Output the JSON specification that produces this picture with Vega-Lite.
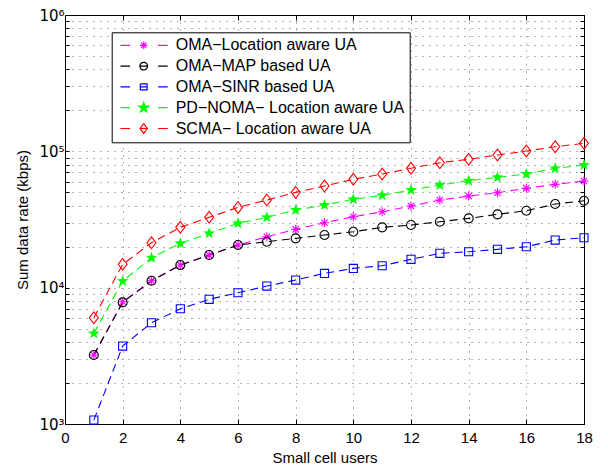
{
  "$schema": "https://vega.github.io/schema/vega-lite/v6.json",
  "width": 519,
  "height": 409,
  "autosize": "none",
  "padding": {"left": 65, "top": 15, "right": 24, "bottom": 44},
  "background": "white",
  "config": {
    "font": "Liberation Sans",
    "view": {"stroke": "#000", "strokeWidth": 1},
    "axis": {"labelColor": "#000", "titleColor": "#000", "titleFontWeight": "normal", "labelFontSize": 15, "titleFontSize": 15, "tickColor": "#000", "domainColor": "#000"},
    "legend": {
      "orient": "none", "legendX": 46.7, "legendY": 17.3,
      "padding": 5, "strokeColor": "#000", "fillColor": "#fff",
      "symbolSize": 64, "symbolStrokeWidth": 1.2, "symbolOffset": 19, "labelOffset": 24,
      "labelFont": "Liberation Sans", "labelFontSize": 16, "labelColor": "#000", "rowPadding": 4.8, "labelLimit": 400
    }
  },
  "data": {
    "values": [
      {"series": "OMA−Location aware UA", "x": 1, "y": 3205}, {"series": "OMA−Location aware UA", "x": 2, "y": 7880}, {"series": "OMA−Location aware UA", "x": 3, "y": 11230}, {"series": "OMA−Location aware UA", "x": 4, "y": 14650}, {"series": "OMA−Location aware UA", "x": 5, "y": 17350}, {"series": "OMA−Location aware UA", "x": 6, "y": 20540}, {"series": "OMA−Location aware UA", "x": 7, "y": 23640}, {"series": "OMA−Location aware UA", "x": 8, "y": 26780}, {"series": "OMA−Location aware UA", "x": 9, "y": 29940}, {"series": "OMA−Location aware UA", "x": 10, "y": 33130}, {"series": "OMA−Location aware UA", "x": 11, "y": 36060}, {"series": "OMA−Location aware UA", "x": 12, "y": 39690}, {"series": "OMA−Location aware UA", "x": 13, "y": 43920}, {"series": "OMA−Location aware UA", "x": 14, "y": 46990}, {"series": "OMA−Location aware UA", "x": 15, "y": 49700}, {"series": "OMA−Location aware UA", "x": 16, "y": 53520}, {"series": "OMA−Location aware UA", "x": 17, "y": 57270}, {"series": "OMA−Location aware UA", "x": 18, "y": 60560},
      {"series": "OMA−MAP based UA", "x": 1, "y": 3205}, {"series": "OMA−MAP based UA", "x": 2, "y": 7800}, {"series": "OMA−MAP based UA", "x": 3, "y": 11230}, {"series": "OMA−MAP based UA", "x": 4, "y": 14650}, {"series": "OMA−MAP based UA", "x": 5, "y": 17350}, {"series": "OMA−MAP based UA", "x": 6, "y": 20540}, {"series": "OMA−MAP based UA", "x": 7, "y": 21720}, {"series": "OMA−MAP based UA", "x": 8, "y": 23000}, {"series": "OMA−MAP based UA", "x": 9, "y": 24320}, {"series": "OMA−MAP based UA", "x": 10, "y": 25720}, {"series": "OMA−MAP based UA", "x": 11, "y": 27700}, {"series": "OMA−MAP based UA", "x": 12, "y": 28800}, {"series": "OMA−MAP based UA", "x": 13, "y": 30450}, {"series": "OMA−MAP based UA", "x": 14, "y": 32240}, {"series": "OMA−MAP based UA", "x": 15, "y": 34490}, {"series": "OMA−MAP based UA", "x": 16, "y": 36660}, {"series": "OMA−MAP based UA", "x": 17, "y": 41050}, {"series": "OMA−MAP based UA", "x": 18, "y": 43410},
      {"series": "OMA−SINR based UA", "x": 1, "y": 1068}, {"series": "OMA−SINR based UA", "x": 2, "y": 3727}, {"series": "OMA−SINR based UA", "x": 3, "y": 5527}, {"series": "OMA−SINR based UA", "x": 4, "y": 7002}, {"series": "OMA−SINR based UA", "x": 5, "y": 8210}, {"series": "OMA−SINR based UA", "x": 6, "y": 9175}, {"series": "OMA−SINR based UA", "x": 7, "y": 10270}, {"series": "OMA−SINR based UA", "x": 8, "y": 11370}, {"series": "OMA−SINR based UA", "x": 9, "y": 12730}, {"series": "OMA−SINR based UA", "x": 10, "y": 13850}, {"series": "OMA−SINR based UA", "x": 11, "y": 14480}, {"series": "OMA−SINR based UA", "x": 12, "y": 16130}, {"series": "OMA−SINR based UA", "x": 13, "y": 17850}, {"series": "OMA−SINR based UA", "x": 14, "y": 18340}, {"series": "OMA−SINR based UA", "x": 15, "y": 19100}, {"series": "OMA−SINR based UA", "x": 16, "y": 19960}, {"series": "OMA−SINR based UA", "x": 17, "y": 22350}, {"series": "OMA−SINR based UA", "x": 18, "y": 23240},
      {"series": "PD−NOMA− Location aware UA", "x": 1, "y": 4620}, {"series": "PD−NOMA− Location aware UA", "x": 2, "y": 11180}, {"series": "PD−NOMA− Location aware UA", "x": 3, "y": 16570}, {"series": "PD−NOMA− Location aware UA", "x": 4, "y": 21130}, {"series": "PD−NOMA− Location aware UA", "x": 5, "y": 25020}, {"series": "PD−NOMA− Location aware UA", "x": 6, "y": 29630}, {"series": "PD−NOMA− Location aware UA", "x": 7, "y": 32800}, {"series": "PD−NOMA− Location aware UA", "x": 8, "y": 37100}, {"series": "PD−NOMA− Location aware UA", "x": 9, "y": 40360}, {"series": "PD−NOMA− Location aware UA", "x": 10, "y": 44440}, {"series": "PD−NOMA− Location aware UA", "x": 11, "y": 47560}, {"series": "PD−NOMA− Location aware UA", "x": 12, "y": 52010}, {"series": "PD−NOMA− Location aware UA", "x": 13, "y": 56580}, {"series": "PD−NOMA− Location aware UA", "x": 14, "y": 60860}, {"series": "PD−NOMA− Location aware UA", "x": 15, "y": 64440}, {"series": "PD−NOMA− Location aware UA", "x": 16, "y": 68150}, {"series": "PD−NOMA− Location aware UA", "x": 17, "y": 75050}, {"series": "PD−NOMA− Location aware UA", "x": 18, "y": 79350},
      {"series": "SCMA− Location aware  UA", "x": 1, "y": 6020}, {"series": "SCMA− Location aware  UA", "x": 2, "y": 14830}, {"series": "SCMA− Location aware  UA", "x": 3, "y": 21350}, {"series": "SCMA− Location aware  UA", "x": 4, "y": 27700}, {"series": "SCMA− Location aware  UA", "x": 5, "y": 32800}, {"series": "SCMA− Location aware  UA", "x": 6, "y": 38800}, {"series": "SCMA− Location aware  UA", "x": 7, "y": 43900}, {"series": "SCMA− Location aware  UA", "x": 8, "y": 50000}, {"series": "SCMA− Location aware  UA", "x": 9, "y": 55660}, {"series": "SCMA− Location aware  UA", "x": 10, "y": 62330}, {"series": "SCMA− Location aware  UA", "x": 11, "y": 68150}, {"series": "SCMA− Location aware  UA", "x": 12, "y": 75050}, {"series": "SCMA− Location aware  UA", "x": 13, "y": 82480}, {"series": "SCMA− Location aware  UA", "x": 14, "y": 87340}, {"series": "SCMA− Location aware  UA", "x": 15, "y": 93950}, {"series": "SCMA− Location aware  UA", "x": 16, "y": 100500}, {"series": "SCMA− Location aware  UA", "x": 17, "y": 108100}, {"series": "SCMA− Location aware  UA", "x": 18, "y": 114500}
    ]
  },
  "layer": [
    {
      "mark": {"type": "line", "strokeDash": [8, 5], "strokeWidth": 1.1},
      "encoding": {
        "x": {"field": "x", "type": "quantitative", "scale": {"domain": [0, 18], "nice": false, "zero": false},
          "axis": {"orient": "bottom", "title": "Small cell users", "values": [0, 2, 4, 6, 8, 10, 12, 14, 16, 18], "grid": true, "gridDash": [1, 6], "gridColor": "#000", "gridOpacity": 0.6, "tickSize": -5, "labelPadding": 11, "titlePadding": 5, "labelFlush": false}},
        "y": {"field": "y", "type": "quantitative", "scale": {"type": "log", "domain": [1000, 1000000], "nice": false},
          "axis": {"orient": "left", "title": "Sum data rate (kbps)", "values": [1000, 2000, 3000, 4000, 5000, 6000, 7000, 8000, 9000, 10000, 20000, 30000, 40000, 50000, 60000, 70000, 80000, 90000, 100000, 200000, 300000, 400000, 500000, 600000, 700000, 800000, 900000, 1000000],
            "labelExpr": "datum.value == 1000 ? '10³' : datum.value == 10000 ? '10⁴' : datum.value == 100000 ? '10⁵' : datum.value == 1000000 ? '10⁶' : ''",
            "labelFont": "DejaVu Sans", "labelFontSize": 15,
            "labelOverlap": false, "grid": true, "gridDash": [1, 6], "gridColor": "#000", "gridOpacity": 0.6, "tickSize": -4, "labelPadding": 5, "titlePadding": 8}},
        "color": {"field": "series", "type": "nominal", "scale": {"domain": ["OMA−Location aware UA", "OMA−MAP based UA", "OMA−SINR based UA", "PD−NOMA− Location aware UA", "SCMA− Location aware  UA"], "range": ["#ff00ff", "#000000", "#0000ff", "#00ff00", "#ff0000"]},
          "legend": {
            "title": null,
            "encode": {
              "symbols": {
                "update": {
                  "shape": {"signal": "['M-5.8,0H-3.4M3.6,0H6M0,-0.95V0.95M-0.95,0H0.95M-0.67,-0.67L0.67,0.67M-0.67,0.67L0.67,-0.67', 'M-5.8,0H-3.4M3.6,0H6M-0.9,0H0.9M-0.95,0A0.95,0.95 0 1,0 0.95,0A0.95,0.95 0 1,0 -0.95,0A0.95,0.95 0 1,1 0.95,0A0.95,0.95 0 1,1 -0.95,0', 'M-5.8,0H-3.4M3.6,0H6M-0.85,0H0.85M-0.85,-0.75H0.85V0.75H-0.85V-0.75V0.75H0.85V-0.75H-0.85', 'M-5.8,0H-3.4M3.6,0H6M0,-1.3L0.31,-0.43L1.24,-0.4L0.5,0.16L0.76,1.05L0,0.53L-0.76,1.05L-0.5,0.16L-1.24,-0.4L-0.31,-0.43Z', 'M-5.8,0H-3.4M3.6,0H6M-0.9,0H0.9M0,-1.25L0.9,0L0,1.25L-0.9,0L0,-1.25L-0.9,0L0,1.25L0.9,0L0,-1.25'][datum.index]"},
                  "strokeDash": {"value": [1, 0]}
                }
              }
            }
          }},
        "order": {"field": "x", "type": "quantitative"}
      }
    },
    {
      "transform": [{"filter": {"field": "series", "equal": "OMA−Location aware UA"}}],
      "mark": {"type": "point", "filled": false, "size": 81, "strokeWidth": 1.1, "opacity": 1, "shape": "M0,-1V1M-1,0H1M-0.7,-0.7L0.7,0.7M-0.7,0.7L0.7,-0.7"},
      "encoding": {
        "x": {"field": "x", "type": "quantitative", "axis": {"orient": "top", "title": null, "values": [0, 2, 4, 6, 8, 10, 12, 14, 16, 18], "labels": false, "grid": false, "domain": false, "tickSize": -5}},
        "y": {"field": "y", "type": "quantitative", "axis": {"orient": "right", "title": null, "values": [1000, 2000, 3000, 4000, 5000, 6000, 7000, 8000, 9000, 10000, 20000, 30000, 40000, 50000, 60000, 70000, 80000, 90000, 100000, 200000, 300000, 400000, 500000, 600000, 700000, 800000, 900000, 1000000], "labels": false, "grid": false, "domain": false, "tickSize": -4}},
        "color": {"field": "series", "type": "nominal", "legend": null}
      }
    },
    {
      "transform": [{"filter": {"field": "series", "equal": "OMA−MAP based UA"}}],
      "mark": {"type": "point", "filled": false, "size": 81, "strokeWidth": 1.1, "opacity": 1, "shape": "circle"},
      "encoding": {
        "x": {"field": "x", "type": "quantitative", "axis": null},
        "y": {"field": "y", "type": "quantitative", "axis": null},
        "color": {"field": "series", "type": "nominal", "legend": null}
      }
    },
    {
      "transform": [{"filter": {"field": "series", "equal": "OMA−SINR based UA"}}],
      "mark": {"type": "point", "filled": false, "size": 81, "strokeWidth": 1.1, "opacity": 1, "shape": "M-0.9,-0.9H0.9V0.9H-0.9Z"},
      "encoding": {
        "x": {"field": "x", "type": "quantitative", "axis": null},
        "y": {"field": "y", "type": "quantitative", "axis": null},
        "color": {"field": "series", "type": "nominal", "legend": null}
      }
    },
    {
      "transform": [{"filter": {"field": "series", "equal": "PD−NOMA− Location aware UA"}}],
      "mark": {"type": "point", "filled": true, "size": 81, "opacity": 1, "strokeWidth": 0, "shape": "M0,-1.35L0.323,-0.445L1.284,-0.417L0.523,0.17L0.794,1.092L0,0.55L-0.794,1.092L-0.523,0.17L-1.284,-0.417L-0.323,-0.445Z"},
      "encoding": {
        "x": {"field": "x", "type": "quantitative", "axis": null},
        "y": {"field": "y", "type": "quantitative", "axis": null},
        "color": {"field": "series", "type": "nominal", "legend": null}
      }
    },
    {
      "transform": [{"filter": {"field": "series", "equal": "SCMA− Location aware  UA"}}],
      "mark": {"type": "point", "filled": false, "size": 81, "strokeWidth": 1.1, "opacity": 1, "shape": "M0,-1.3L1,0L0,1.3L-1,0Z"},
      "encoding": {
        "x": {"field": "x", "type": "quantitative", "axis": null},
        "y": {"field": "y", "type": "quantitative", "axis": null},
        "color": {"field": "series", "type": "nominal", "legend": null}
      }
    }
  ],
  "resolve": {"axis": {"x": "independent", "y": "independent"}}
}
